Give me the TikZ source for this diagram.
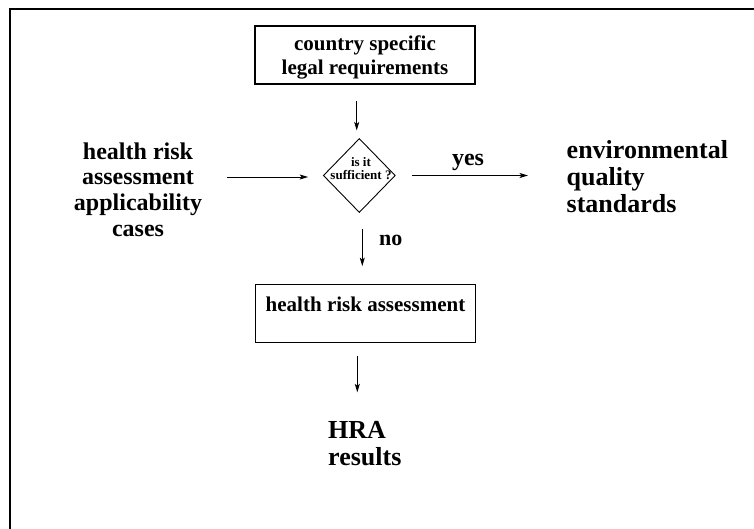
\documentclass[tikz,border=0pt]{standalone}
\usepackage{fontspec}
\setmainfont{Liberation Serif}
\usetikzlibrary{shapes.geometric,arrows.meta}
\begin{document}
\begin{tikzpicture}[x=1pt,y=-1pt,
  every node/.style={font=\bfseries, inner sep=0pt},
  fs/.style 2 args={font=\bfseries\fontsize{#1pt}{#2pt}\selectfont},
  box/.style={draw, line width=1.2pt, rectangle},
  decision/.style={draw, line width=0.9pt, diamond, minimum width=72pt, minimum height=74pt},
  arr/.style={line width=0.9pt, -{Stealth[length=8.5pt,width=5pt,inset=2pt]}}]

\useasboundingbox (0,0) rectangle (754,528);

% page frame: only its top and left edges fall inside the page
\begin{scope}
  \clip (0,0) rectangle (754,528);
  \draw[line width=2.4pt] (9.7,540) |- (770,9.2);
\end{scope}

% boxes and decision
\node[box, fs={21}{23.5}, align=center, minimum width=220pt,
      text height=48pt, text depth=10pt]
  (legal) at (365,55) {country specific\\legal requirements};
\node[decision] (dec) at (359.3,175.5) {};
\node[fs={13}{13.3}, align=center] (dectext) at (361,168.9) {is it\\sufficient ?};
\node[box, fs={21}{22}, minimum width=220.4pt, text height=27.4pt, text depth=30.6pt]
  (hra) at (365.5,313.3) {health risk assessment};

% free text
\node[fs={24}{25.7}, align=center] (lefttxt) at (138,189.5)
  {health risk\\assessment\\applicability\\cases};
\node[fs={26}{27.2}, align=left, anchor=west] (righttxt) at (566.5,176.5)
  {environmental\\quality\\standards};
\node[fs={26}{27.5}, align=left, anchor=west] (results) at (328,443.5) {HRA\\results};
\node[fs={24}{24}, anchor=base] (yes) at (468,165.7) {yes};
\node[fs={22}{22}, anchor=base west] (no) at (379,245) {no};

% connectors
\draw[arr] ([xshift=-8.3pt,yshift=-16.7pt]legal.south) -- ([xshift=-2.6pt,yshift=7.6pt]dec.north);
\draw[arr] ([xshift=25pt,yshift=-1.5pt]lefttxt.east |- dec.west) -- ([xshift=-14.7pt,yshift=-1.5pt]dec.west);
\draw[arr] ([xshift=16.4pt]dec.east) -- ([xshift=-38.5pt]righttxt.west |- dec.east);
\draw[arr] ([xshift=3pt,yshift=-16pt]dec.south) -- ([xshift=-3.2pt,yshift=17.6pt]hra.north);
\draw[arr] ([xshift=-8.2pt,yshift=-12.7pt]hra.south) -- ([xshift=29.3pt,yshift=28.5pt]results.north west);

\end{tikzpicture}
\end{document}
